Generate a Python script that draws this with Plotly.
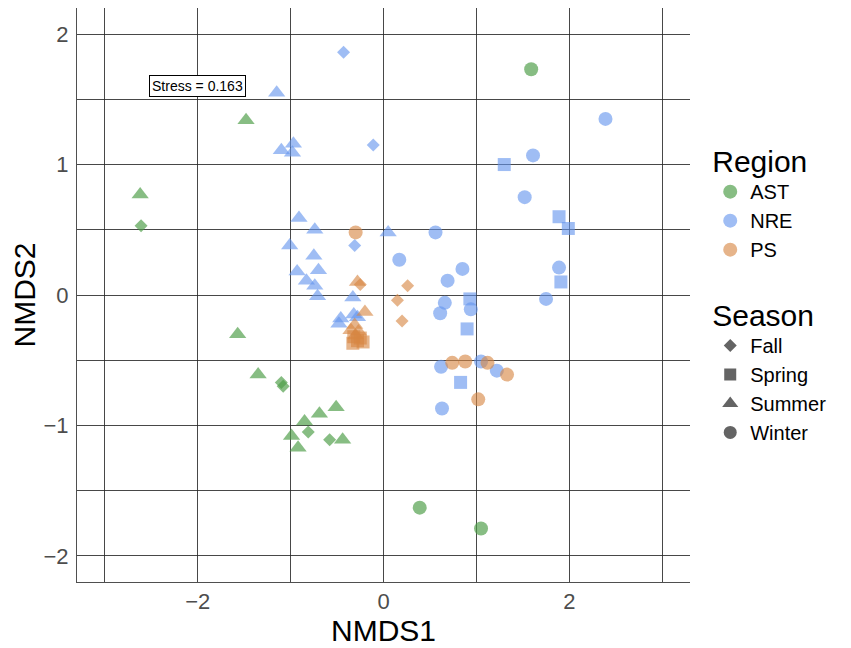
import plotly.graph_objects as go

# ---- data ----
regions = ["AST", "NRE", "PS"]
seasons = ["Fall", "Spring", "Summer", "Winter"]

AST_fall_x = [-2.61, -1.10, -1.08, -0.81, -0.58]
AST_fall_y = [0.53, -0.67, -0.70, -1.05, -1.11]
AST_summer_x = [-1.48, -2.62, -1.57, -1.35, -0.51, -0.69, -0.85, -0.99, -0.92, -0.44]
AST_summer_y = [1.34, 0.77, -0.30, -0.61, -0.86, -0.91, -0.97, -1.08, -1.17, -1.11]
AST_winter_x = [1.59, 0.39, 1.05]
AST_winter_y = [1.73, -1.63, -1.79]

NRE_fall_x = [-0.43, -0.11, -0.31]
NRE_fall_y = [1.86, 1.15, 0.38]
NRE_summer_x = [-1.15, -1.10, -0.97, -0.98, -0.91, -0.74, -1.01, -0.75, -0.93, -0.70,
                -0.83, -0.74, -0.71, 0.05, -0.33, -0.46, -0.48, -0.32, -0.28]
NRE_summer_y = [1.55, 1.11, 1.16, 1.09, 0.59, 0.50, 0.38, 0.30, 0.18, 0.19,
                0.11, 0.07, -0.01, 0.48, -0.02, -0.18, -0.22, -0.15, -0.17]
NRE_spring_x = [1.30, 1.89, 1.99, 1.91, 0.93, 0.90, 0.83]
NRE_spring_y = [1.00, 0.60, 0.51, 0.10, -0.03, -0.26, -0.67]
NRE_winter_x = [2.39, 1.61, 1.52, 0.56, 0.17, 0.85, 0.69, 1.89, 1.75, 0.66,
                0.61, 0.94, 0.62, 1.05, 1.22, 0.63]
NRE_winter_y = [1.35, 1.07, 0.75, 0.48, 0.27, 0.20, 0.11, 0.21, -0.03, -0.06,
                -0.14, -0.11, -0.55, -0.51, -0.58, -0.87]

PS_fall_x = [0.26, 0.15, 0.20, -0.25]
PS_fall_y = [0.07, -0.04, -0.20, 0.08]
PS_summer_x = [-0.28, -0.20, -0.31, -0.35, -0.27, -0.30]
PS_summer_y = [0.10, -0.13, -0.23, -0.27, -0.28, -0.31]
PS_spring_x = [-0.32, -0.25, -0.22, -0.33, -0.28]
PS_spring_y = [-0.32, -0.33, -0.36, -0.37, -0.35]
PS_winter_x = [-0.30, 0.74, 0.88, 1.12, 1.33, 1.02]
PS_winter_y = [0.48, -0.52, -0.51, -0.52, -0.61, -0.80]

stress_text = "Stress = 0.163"

# ---- styling ----
region_colors = {"AST": "rgba(78,158,72,0.68)",
                 "NRE": "rgba(100,149,237,0.62)",
                 "PS": "rgba(214,134,66,0.62)"}
season_symbols = {"Fall": "diamond", "Spring": "square", "Summer": "triangle-up", "Winter": "circle"}
season_sizes = {"Fall": 10, "Spring": 13, "Summer": 15, "Winter": 14}

data = {
    ("AST", "Fall"): (AST_fall_x, AST_fall_y),
    ("AST", "Summer"): (AST_summer_x, AST_summer_y),
    ("AST", "Winter"): (AST_winter_x, AST_winter_y),
    ("NRE", "Fall"): (NRE_fall_x, NRE_fall_y),
    ("NRE", "Summer"): (NRE_summer_x, NRE_summer_y),
    ("NRE", "Spring"): (NRE_spring_x, NRE_spring_y),
    ("NRE", "Winter"): (NRE_winter_x, NRE_winter_y),
    ("PS", "Fall"): (PS_fall_x, PS_fall_y),
    ("PS", "Summer"): (PS_summer_x, PS_summer_y),
    ("PS", "Spring"): (PS_spring_x, PS_spring_y),
    ("PS", "Winter"): (PS_winter_x, PS_winter_y),
}

fig = go.Figure()
for (reg, sea), (xs, ys) in data.items():
    fig.add_trace(go.Scatter(
        x=xs, y=ys, mode="markers", showlegend=False, hoverinfo="skip",
        marker=dict(symbol=season_symbols[sea], size=season_sizes[sea],
                    color=region_colors[reg], line=dict(width=0)),
    ))

# legend entries
for reg in regions:
    fig.add_trace(go.Scatter(
        x=[None], y=[None], mode="markers", name=reg, legend="legend",
        marker=dict(symbol="circle", size=14, color=region_colors[reg], line=dict(width=0)),
    ))
for sea in seasons:
    fig.add_trace(go.Scatter(
        x=[None], y=[None], mode="markers", name=sea, legend="legend2",
        marker=dict(symbol=season_symbols[sea], size={"Fall": 10, "Spring": 12, "Summer": 14, "Winter": 13}[sea],
                    color="rgb(100,100,100)", line=dict(width=0)),
    ))

grid_col = "rgba(40,40,40,0.85)"
leg_common = dict(xanchor="left", yanchor="top", font=dict(size=20, color="black"),
                  itemsizing="trace", bgcolor="rgba(0,0,0,0)", tracegroupgap=0)
fig.update_layout(
    width=843, height=640,
    margin=dict(l=69, r=161, t=0, b=66),
    paper_bgcolor="white", plot_bgcolor="white",
    font=dict(family="Liberation Sans, Arial, sans-serif", color="black"),
    legend=dict(x=1.033, y=0.782, title=dict(text="Region", font=dict(size=30, color="black")), **leg_common),
    legend2=dict(x=1.033, y=0.514, title=dict(text="Season", font=dict(size=30, color="black")), **leg_common),
    xaxis=dict(range=[-3.3, 3.3], tickvals=[-2, 0, 2], showgrid=True, gridcolor=grid_col, gridwidth=1,
               minor=dict(tickvals=[-3, -1, 1, 3], showgrid=True, gridcolor=grid_col, gridwidth=1),
               zeroline=False, showline=True, linecolor="rgba(60,60,60,0.9)", linewidth=1,
               ticks="", tickfont=dict(size=22, color="#4d4d4d"),
               title=dict(text="NMDS1", font=dict(size=30, color="black"), standoff=0)),
    yaxis=dict(range=[-2.2, 2.2], tickvals=[-2, -1, 0, 1, 2], showgrid=True, gridcolor=grid_col, gridwidth=1,
               minor=dict(tickvals=[-1.5, -0.5, 0.5, 1.5], showgrid=True, gridcolor=grid_col, gridwidth=1),
               zeroline=False, showline=True, linecolor="rgba(60,60,60,0.9)", linewidth=1,
               ticks="", tickfont=dict(size=22, color="#4d4d4d"), ticklabelstandoff=3,
               title=dict(text="NMDS2", font=dict(size=30, color="black"), standoff=3)),
    annotations=[dict(x=-2.0, y=1.6, xref="x", yref="y", text=stress_text, showarrow=False,
                      font=dict(size=14, color="black"), bgcolor="white",
                      bordercolor="black", borderwidth=1, borderpad=2)],
)

fig.write_html("out.html")
